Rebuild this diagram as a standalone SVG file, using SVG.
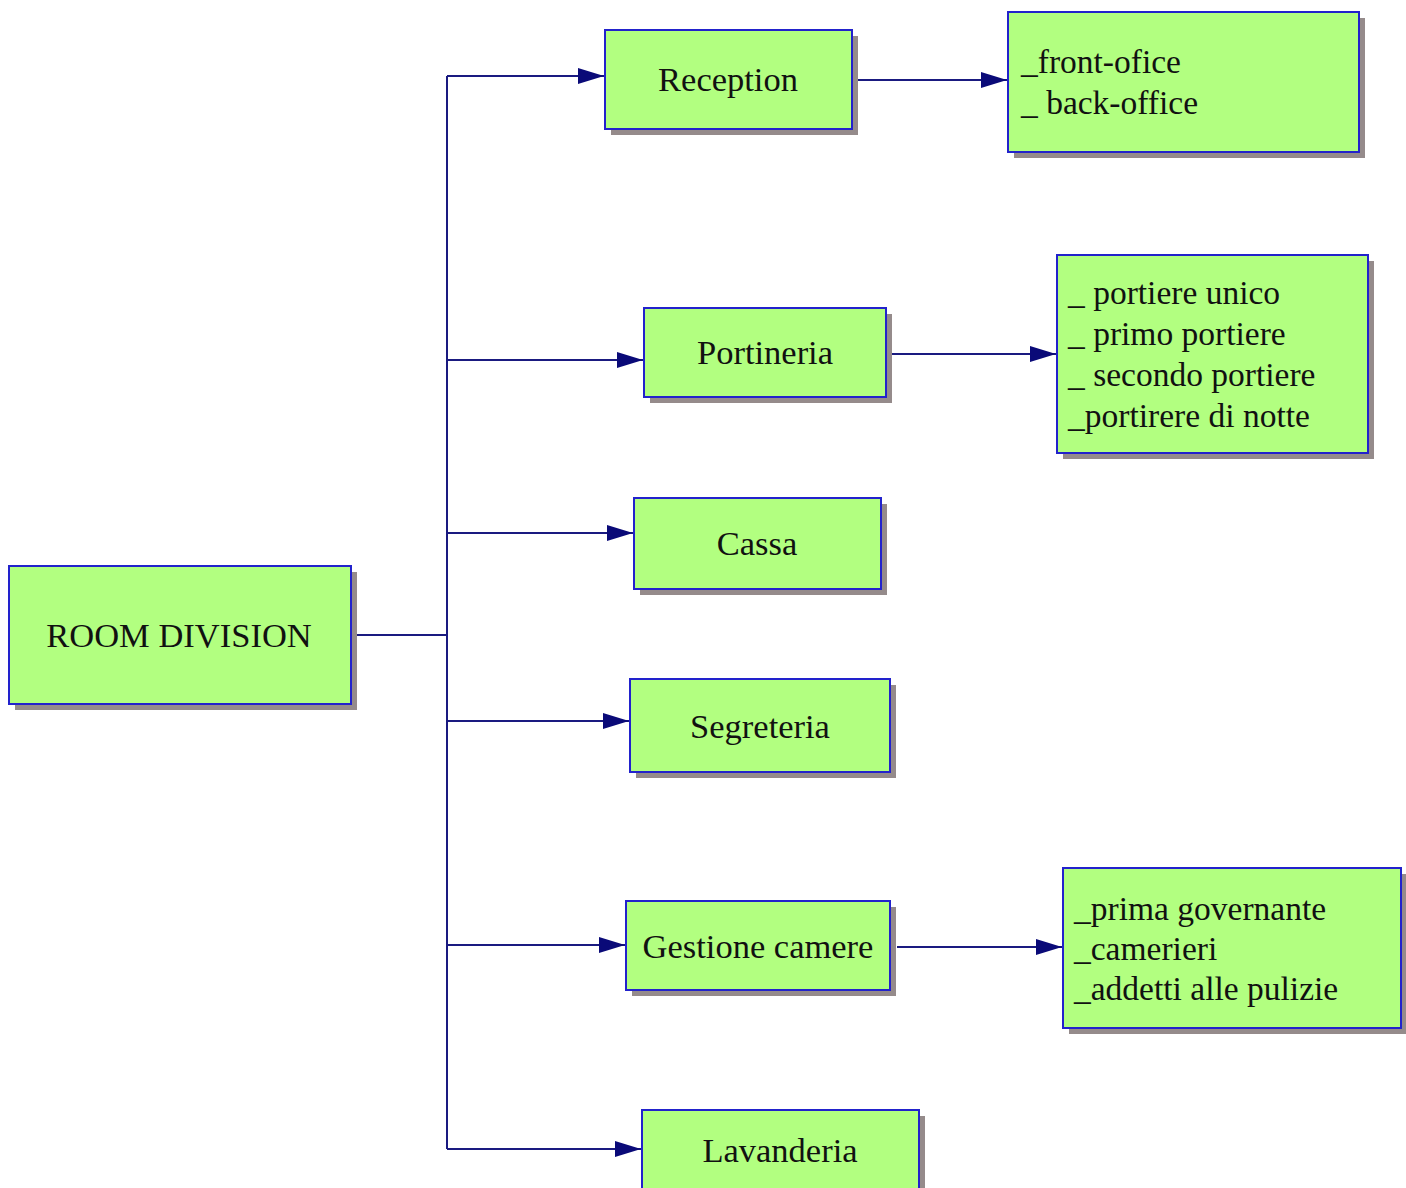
<svg xmlns="http://www.w3.org/2000/svg" width="1406" height="1188" viewBox="0 0 1406 1188">
<style>
.box{fill:#b2ff80;stroke:#2222cc;stroke-width:2}
.sh{fill:#958b8b}
.t{font-family:"Liberation Serif","Times New Roman",serif;font-size:33.5px;fill:#111}
.c{text-anchor:middle;font-size:34.5px}
.ln{fill:none;stroke:#1a1a80;stroke-width:2}
</style>
<defs>
<marker id="ah" markerWidth="26" markerHeight="18" refX="26" refY="9" orient="auto" markerUnits="userSpaceOnUse">
<path d="M0,1 L26,9 L0,17 Z" fill="#0a0a78"/>
</marker>
</defs>
<rect width="1406" height="1188" fill="#fff"/>
<g id="connectors">
<path class="ln" d="M357,635 H447"/>
<path class="ln" d="M447,76 V1149"/>
<path class="ln" d="M447,76 H604" marker-end="url(#ah)"/>
<path class="ln" d="M447,360 H643" marker-end="url(#ah)"/>
<path class="ln" d="M447,533 H633" marker-end="url(#ah)"/>
<path class="ln" d="M447,721 H629" marker-end="url(#ah)"/>
<path class="ln" d="M447,945 H625" marker-end="url(#ah)"/>
<path class="ln" d="M447,1149 H641" marker-end="url(#ah)"/>
<path class="ln" d="M858,80 H1007" marker-end="url(#ah)"/>
<path class="ln" d="M892,354 H1056" marker-end="url(#ah)"/>
<path class="ln" d="M897,947 H1062" marker-end="url(#ah)"/>
</g>
<g id="room-division">
<rect class="sh" x="15" y="572" width="342" height="138"/>
<rect class="box" x="9" y="566" width="342" height="138"/>
<text class="t c" x="179" y="647">ROOM DIVISION</text>
</g>
<g id="reception">
<rect class="sh" x="611" y="36" width="247" height="99"/>
<rect class="box" x="605" y="30" width="247" height="99"/>
<text class="t c" x="728" y="91">Reception</text>
</g>
<g id="front-back">
<rect class="sh" x="1014" y="18" width="351" height="140"/>
<rect class="box" x="1008" y="12" width="351" height="140"/>
<text class="t" x="1021" y="73">_front-ofice</text>
<text class="t" x="1021" y="114">_ back-office</text>
</g>
<g id="portineria">
<rect class="sh" x="650" y="314" width="242" height="89"/>
<rect class="box" x="644" y="308" width="242" height="89"/>
<text class="t c" x="765" y="364">Portineria</text>
</g>
<g id="portieri">
<rect class="sh" x="1063" y="261" width="311" height="198"/>
<rect class="box" x="1057" y="255" width="311" height="198"/>
<text class="t" x="1068" y="304">_ portiere unico</text>
<text class="t" x="1068" y="345">_ primo portiere</text>
<text class="t" x="1068" y="386">_ secondo portiere</text>
<text class="t" x="1068" y="427">_portirere di notte</text>
</g>
<g id="cassa">
<rect class="sh" x="640" y="504" width="247" height="91"/>
<rect class="box" x="634" y="498" width="247" height="91"/>
<text class="t c" x="757" y="555">Cassa</text>
</g>
<g id="segreteria">
<rect class="sh" x="636" y="685" width="260" height="93"/>
<rect class="box" x="630" y="679" width="260" height="93"/>
<text class="t c" x="760" y="738">Segreteria</text>
</g>
<g id="gestione-camere">
<rect class="sh" x="632" y="907" width="264" height="89"/>
<rect class="box" x="626" y="901" width="264" height="89"/>
<text class="t c" x="758" y="958">Gestione camere</text>
</g>
<g id="personale-camere">
<rect class="sh" x="1069" y="874" width="338" height="160"/>
<rect class="box" x="1063" y="868" width="338" height="160"/>
<text class="t" x="1074" y="920">_prima governante</text>
<text class="t" x="1074" y="960">_camerieri</text>
<text class="t" x="1074" y="1000">_addetti alle pulizie</text>
</g>
<g id="lavanderia">
<rect class="sh" x="648" y="1116" width="277" height="90"/>
<rect class="box" x="642" y="1110" width="277" height="90"/>
<text class="t c" x="780" y="1162">Lavanderia</text>
</g>
</svg>
